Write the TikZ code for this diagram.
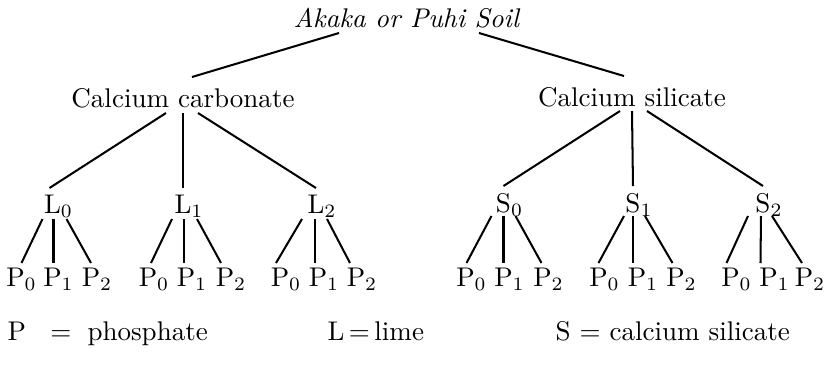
\documentclass[tikz,border=0pt]{standalone}
\usetikzlibrary{calc}
\newcommand{\lsub}[1]{\rlap{$_{#1}$}}

\begin{document}
\begin{tikzpicture}[x=0.37pt, y=-0.37pt,
  lab/.style={inner sep=0pt, anchor=base},
  br/.style={line width=0.75pt}]
\useasboundingbox (0,0) rectangle (824,369);
% top of the tree
\node[lab] (soil) at (407,27) {\textit{Akaka or Puhi Soil}};
\node[lab] (cc) at (183,107) {Calcium carbonate};
\node[lab] (cs) at (632,106) {Calcium silicate};
% lime and silicate levels
\node[lab] (L0) at (52.5,213) {L\lsub0};
\node[lab] (L1) at (183,213) {L\lsub1};
\node[lab] (L2) at (316,213) {L\lsub2};
\node[lab] (S0) at (503.5,212) {S\lsub0};
\node[lab] (S1) at (633,212) {S\lsub1};
\node[lab] (S2) at (763,212) {S\lsub2};
% phosphate level
\node[lab] (la) at (15.5,286) {P\lsub0}; \node[lab] (lb) at (52.5,286) {P\lsub1}; \node[lab] (lc) at (91,286) {P\lsub2};
\node[lab] (ld) at (148,286) {P\lsub0}; \node[lab] (le) at (186,286) {P\lsub1}; \node[lab] (lf) at (225,286) {P\lsub2};
\node[lab] (lg) at (280,286) {P\lsub0}; \node[lab] (lh) at (318,286) {P\lsub1}; \node[lab] (li) at (356,286) {P\lsub2};
\node[lab] (sa) at (465.5,286) {P\lsub0}; \node[lab] (sb) at (503.5,286) {P\lsub1}; \node[lab] (sc) at (542.5,286) {P\lsub2};
\node[lab] (sd) at (598.5,286) {P\lsub0}; \node[lab] (se) at (637,286) {P\lsub1}; \node[lab] (sf) at (675.5,286) {P\lsub2};
\node[lab] (sg) at (730.5,286) {P\lsub0}; \node[lab] (sh) at (768.5,286) {P\lsub1}; \node[lab] (si) at (804,286) {P\lsub2};
% key
\node[lab, anchor=base west] (kp) at (7,340) {P\hspace{9pt}$=$\hspace{6pt}phosphate};
\node[lab, anchor=base west] (kl) at (327,340) {L\,$=$\,lime};
\node[lab, anchor=base west] (ks) at (555,340) {S\ $=$\ calcium silicate};
% branches
\draw[br] ($(soil.base)+(-68,6)$) -- ($(cc.base)+(9,-30)$);
\draw[br] ($(soil.base)+(72,6)$) -- ($(cs.base)+(-8,-30)$);
\draw[br] ($(cc.base)+(-17,6)$) -- ($(L0.base)+(-3,-25)$);
\draw[br] ($(cc.base)+(0,6)$) -- ($(L1.base)+(0,-25)$);
\draw[br] ($(cc.base)+(15,6)$) -- ($(L2.base)+(0,-25)$);
\draw[br] ($(cs.base)+(-12,5)$) -- ($(S0.base)+(0,-26)$);
\draw[br] ($(cs.base)+(0,5)$) -- ($(S1.base)+(0,-26)$);
\draw[br] ($(cs.base)+(15,5)$) -- ($(S2.base)+(0,-26)$);
\draw[br] ($(L0.base)+(-10,6)$) -- ($(la.base)+(6,-23)$);
\draw[br] ($(L0.base)+(1,6)$) -- ($(lb.base)+(1,-23)$);
\draw[br] ($(L0.base)+(14,6)$) -- ($(lc.base)+(0,-23)$);
\draw[br] ($(L1.base)+(-11,6)$) -- ($(ld.base)+(3,-23)$);
\draw[br] ($(L1.base)+(1,6)$) -- ($(le.base)+(-2,-23)$);
\draw[br] ($(L1.base)+(14,6)$) -- ($(lf.base)+(-4,-23)$);
\draw[br] ($(L2.base)+(-14,6)$) -- ($(lg.base)+(-4,-23)$);
\draw[br] ($(L2.base)+(-1,6)$) -- ($(lh.base)+(-3,-23)$);
\draw[br] ($(L2.base)+(11,6)$) -- ($(li.base)+(-6,-23)$);
\draw[br] ($(S0.base)+(-12,4)$) -- ($(sa.base)+(1,-23)$);
\draw[br] ($(S0.base)+(0,4)$) -- ($(sb.base)+(0,-23)$);
\draw[br] ($(S0.base)+(12,4)$) -- ($(sc.base)+(-1,-23)$);
\draw[br] ($(S1.base)+(-9,4)$) -- ($(sd.base)+(0,-23)$);
\draw[br] ($(S1.base)+(0,4)$) -- ($(se.base)+(-4,-23)$);
\draw[br] ($(S1.base)+(12,4)$) -- ($(sf.base)+(-3,-23)$);
\draw[br] ($(S2.base)+(-15,4)$) -- ($(sg.base)+(-4,-23)$);
\draw[br] ($(S2.base)+(-2,4)$) -- ($(sh.base)+(-8,-23)$);
\draw[br] ($(S2.base)+(9,4)$) -- ($(si.base)+(-2,-23)$);
\end{tikzpicture}
\end{document}
